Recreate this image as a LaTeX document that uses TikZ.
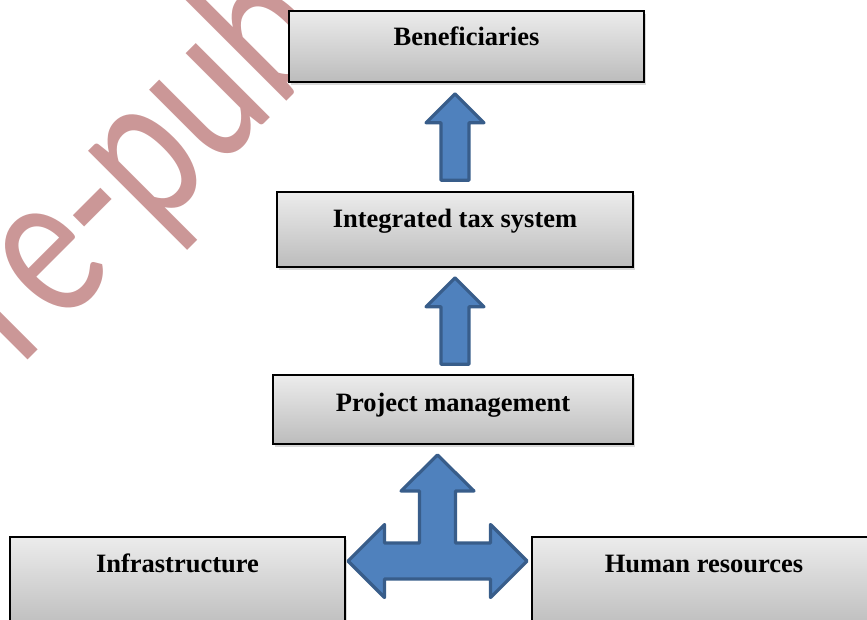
\documentclass[tikz,border=0pt]{standalone}
\usepackage{fontspec}
\setmainfont{Liberation Serif}
\newfontfamily\wmfont{Carlito}
\usetikzlibrary{calc,shadows}
\definecolor{arrfill}{RGB}{79,129,189}
\definecolor{arrline}{RGB}{56,93,138}
\definecolor{wmred}{RGB}{203,151,151}
\definecolor{boxtop}{RGB}{236,236,236}
\definecolor{boxbot}{RGB}{188,188,188}
\tikzset{
  box/.style={draw=black, line width=1.6pt, top color=boxtop, bottom color=boxbot, inner sep=0pt,
    drop shadow={shadow xshift=2pt, shadow yshift=-2.5pt, opacity=0.3}},
  lbl/.style={anchor=base, font=\bfseries\fontsize{26.5}{30}\selectfont, inner sep=0pt},
  blockarrow/.style={fill=arrfill, draw=arrline, line width=3.2pt, line join=round},
  wmark/.style={text=wmred, font=\wmfont\fontsize{196}{196}\selectfont, anchor=base west,
    rotate=45, xscale=0.85, yscale=1.12, inner sep=0pt},
}
\newcommand\blockup[2]{%
  \draw[blockarrow] (#1) -- ($(#1)+(29,29)$) -- ($(#1)+(14,29)$) -- ($(#2)+(14,0)$)
    -- ($(#2)+(-14,0)$) -- ($(#1)+(-14,29)$) -- ($(#1)+(-29,29)$) -- cycle;}
\begin{document}
\begin{tikzpicture}[x=1pt,y=-1pt]
\useasboundingbox (0,0) rectangle (867,619);
\begin{scope}
  \clip (0,0) rectangle (867,619);
  \node[wmark] (wm) at (20,368) {re-pub};
\end{scope}
% boxes
\node[box, minimum width=355pt, minimum height=71pt] (ben) at (466.5,46.5) {};
\node[box, minimum width=356pt, minimum height=75pt] (integ) at (455,229.5) {};
\node[box, minimum width=360pt, minimum height=69pt] (proj) at (453,409.5) {};
\node[box, minimum width=335pt, minimum height=93pt] (infra) at (177.5,583.5) {};
\node[box, minimum width=348pt, minimum height=93pt] (hr) at (706,583.5) {};
% labels
\node[lbl] (tben) at ($(ben.north)+(0,35)$) {Beneficiaries};
\node[lbl] (tinteg) at ($(integ.north)+(0,36)$) {Integrated tax system};
\node[lbl] (tproj) at ($(proj.north)+(0,37)$) {Project management};
\node[lbl] (tinfra) at ($(infra.north)+(0,36)$) {Infrastructure};
\node[lbl] (thr) at ($(hr.north)+(-2,36)$) {Human resources};
% up arrows
\coordinate (t1) at ($(integ.north |- ben.south)+(0,11)$);
\coordinate (b1) at ($(integ.north)+(0,-11)$);
\coordinate (t2) at ($(integ.south)+(0,10)$);
\coordinate (b2) at ($(integ.south |- proj.north)+(0,-10)$);
\blockup{t1}{b1}
\blockup{t2}{b2}
% three-way arrow
\coordinate (C) at ($(infra.east)!0.5!(hr.west)+(-1,-22.5)$);
\draw[blockarrow, shift={(C)}]
  (0,-106) -- (36.5,-70) -- (18,-70) -- (18,-18) -- (53,-18) -- (53,-36.5)
  -- (89.5,0) -- (53,36.5) -- (53,18) -- (-53,18) -- (-53,36.5) -- (-89.5,0)
  -- (-53,-36.5) -- (-53,-18) -- (-18,-18) -- (-18,-70) -- (-36.5,-70) -- cycle;
\end{tikzpicture}
\end{document}
